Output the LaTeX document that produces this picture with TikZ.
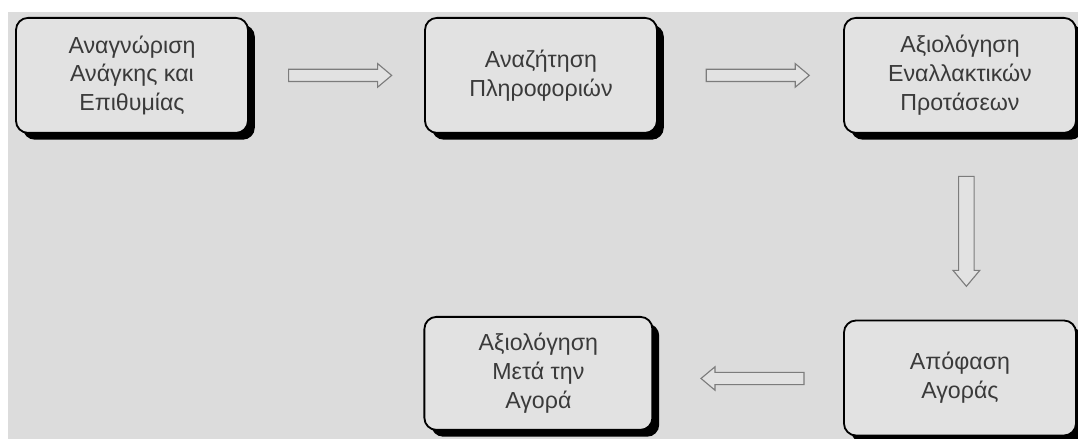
\documentclass[tikz,border=0pt]{standalone}
\usepackage{fontspec}
\setmainfont{Liberation Sans}
\usetikzlibrary{shapes.arrows,shadows,calc}

\definecolor{panelgrey}{HTML}{DCDCDC}
\definecolor{boxgrey}{HTML}{E2E2E2}
\definecolor{textgrey}{HTML}{3A3A3A}
\definecolor{arrowgrey}{HTML}{7C7C7C}

\begin{document}
\begin{tikzpicture}[
    stage/.style={
        rectangle,
        rounded corners=0.3cm,
        minimum width=5.8cm,
        minimum height=2.875cm,
        draw=black,
        line width=1.3pt,
        fill=boxgrey,
        drop shadow={shadow xshift=0.17cm, shadow yshift=-0.17cm, opacity=1, fill=black},
        align=center,
        text=textgrey,
        font=\fontsize{16.5}{20.5}\selectfont
    },
    flow/.style={
        single arrow,
        draw=arrowgrey,
        fill=boxgrey,
        line width=0.8pt,
        inner xsep=0pt,
        inner ysep=0.14cm,
        minimum height=2.575cm,
        single arrow head extend=0.14cm,
        single arrow tip angle=80
    }
]

\useasboundingbox (0,0) rectangle (26.95,10.975);
\fill[panelgrey] (0.2,0) rectangle (26.95,10.675);

\node[stage] (need) at (3.3,9.09) {Αναγνώριση\\Ανάγκης και\\Επιθυμίας};
\node[stage] (search) at (13.525,9.09) {Αναζήτηση\\Πληροφοριών};
\node[stage] (alternatives) at (24.0,9.09) {Αξιολόγηση\\Εναλλακτικών\\Προτάσεων};
\node[stage] (purchase) at (24.0,1.525) {Απόφαση\\Αγοράς};
\node[stage, minimum width=5.7cm, minimum height=2.825cm] (postpurchase) at (13.46,1.64) {Αξιολόγηση\\Μετά την\\Αγορά};

\node[flow] (needtosearch) at ($(need.east)!0.5!(search.west)$) {};
\node[flow, xshift=0.09cm] (searchtoalt) at ($(search.east)!0.5!(alternatives.west)$) {};
\node[flow, xshift=0.16cm, rotate=-90, minimum height=2.75cm, inner ysep=0.18cm] (alttopurchase) at ($(alternatives.south)!0.5!(purchase.north)$) {};
\node[flow, xshift=0.2cm, yshift=-0.07cm, rotate=180] (purchasetopost) at ($(purchase.west)!0.5!(postpurchase.east)$) {};

\end{tikzpicture}
\end{document}
